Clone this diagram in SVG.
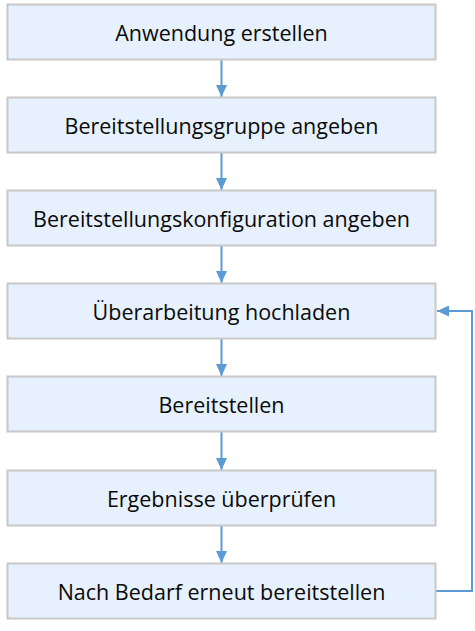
<svg xmlns="http://www.w3.org/2000/svg" width="475" height="631" viewBox="0 0 475 631">
<style>
.box{fill:#E6F1FD;stroke:#C8C8C8;stroke-width:2}
.lbl{font-family:"Open Sans","Noto Sans",sans-serif;font-size:21.5px;fill:#0a0a0a;text-anchor:middle;dominant-baseline:central}
.con{fill:none;stroke:#5B9BD5;stroke-width:2}
</style>
<defs>
<marker id="ah" markerWidth="12" markerHeight="11" refX="12" refY="5.5" orient="auto" markerUnits="userSpaceOnUse">
<path d="M0,0 L12,5.5 L0,11 Z" fill="#5B9BD5"/>
</marker>
</defs>
<rect width="475" height="631" fill="#fff"/>
<g id="connectors">
<line class="con" x1="221.5" y1="60" x2="221.5" y2="97" marker-end="url(#ah)"/>
<line class="con" x1="221.5" y1="153" x2="221.5" y2="190" marker-end="url(#ah)"/>
<line class="con" x1="221.5" y1="246" x2="221.5" y2="283" marker-end="url(#ah)"/>
<line class="con" x1="221.5" y1="339" x2="221.5" y2="376" marker-end="url(#ah)"/>
<line class="con" x1="221.5" y1="432" x2="221.5" y2="470" marker-end="url(#ah)"/>
<line class="con" x1="221.5" y1="526" x2="221.5" y2="563" marker-end="url(#ah)"/>
<polyline class="con" points="436,591 472,591 472,311 437,311" marker-end="url(#ah)"/>
</g>
<g id="n1"><rect class="box" x="7.5" y="4.5" width="428" height="55"/><text class="lbl" x="221.5" y="32">Anwendung erstellen</text></g>
<g id="n2"><rect class="box" x="7.5" y="97.5" width="428" height="55"/><text class="lbl" x="221.5" y="125">Bereitstellungsgruppe angeben</text></g>
<g id="n3"><rect class="box" x="7.5" y="190.5" width="428" height="55"/><text class="lbl" x="221.5" y="218">Bereitstellungskonfiguration angeben</text></g>
<g id="n4"><rect class="box" x="7.5" y="283.5" width="428" height="55"/><text class="lbl" x="221.5" y="311">Überarbeitung hochladen</text></g>
<g id="n5"><rect class="box" x="7.5" y="376.5" width="428" height="55"/><text class="lbl" x="221.5" y="404">Bereitstellen</text></g>
<g id="n6"><rect class="box" x="7.5" y="470.5" width="428" height="55"/><text class="lbl" x="221.5" y="498">Ergebnisse überprüfen</text></g>
<g id="n7"><rect class="box" x="7.5" y="563.5" width="428" height="55"/><text class="lbl" x="221.5" y="591">Nach Bedarf erneut bereitstellen</text></g>
</svg>
